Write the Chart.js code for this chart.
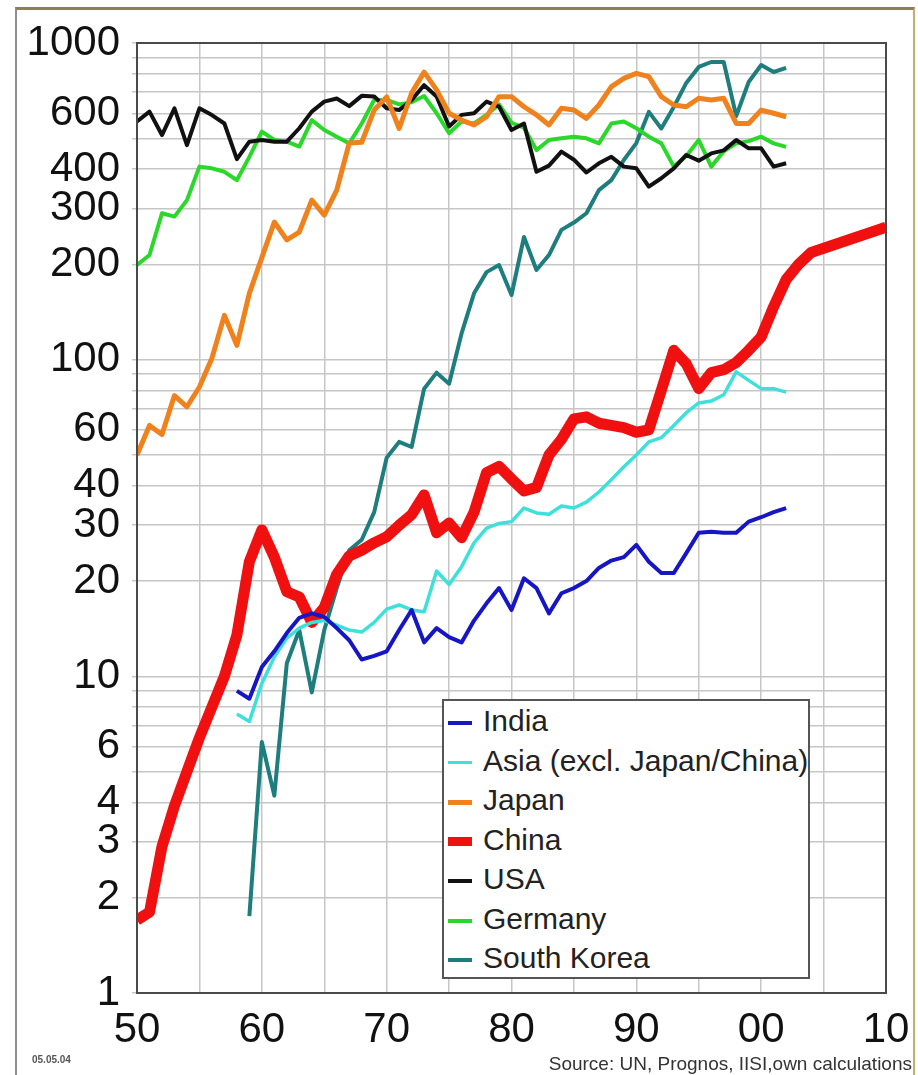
<!DOCTYPE html>
<html>
<head>
<meta charset="utf-8">
<script src="https://cdn.jsdelivr.net/npm/chart.js@4.4.1/dist/chart.umd.min.js"></script>
<style>
  html, body { margin: 0; padding: 0; background: #fff; }
  body { width: 918px; height: 1075px; position: relative; overflow: hidden; font-family: "Liberation Sans", Arial, sans-serif; }
  #frame { position: absolute; left: 15px; top: 7px; width: 896px; height: 1100px; border-top: 3px solid #8c7f58; border-left: 2px solid #8e8e8e; border-right: 2px solid #c9ad6a; }
  #wrap { position: absolute; left: 0; top: 0; width: 918px; height: 1060px; }
  #legend { position: absolute; left: 442px; top: 699px; width: 364px; height: 276px; border: 2px solid #555; background: #fff; }
  .item { height: 39.5px; line-height: 39.5px; font-size: 30px; color: #222; white-space: nowrap; }
  .swatch { display: inline-block; width: 24px; vertical-align: middle; margin: 0 11px 0 4px; }
  #date { position: absolute; left: 32px; top: 1054px; font-size: 10px; font-weight: bold; color: #555; }
  #source { position: absolute; right: 6px; top: 1053px; font-size: 19px; color: #333; }
</style>
</head>
<body>
<div id="frame"></div>
<div id="wrap"><canvas id="steelChart"></canvas></div>
<div id="legend"></div>
<div id="date">05.05.04</div>
<div id="source">Source: UN, Prognos, IISI,own calculations</div>
<script>
// values, one value per year from the start year
const indiaStart = 1958;
const indiaValues = [9.0, 8.5, 10.7, 12.0, 13.7, 15.3, 15.8, 15.4, 14.2, 13.0, 11.3, 11.6, 12.0, 14.0, 16.2, 12.8, 14.2, 13.3, 12.8, 15.0, 17.0, 19.0, 16.2, 20.4, 19.0, 15.8, 18.3, 19.0, 20.0, 22.0, 23.2, 23.8, 26.0, 23.0, 21.2, 21.2, 24.5, 28.4, 28.6, 28.4, 28.4, 30.8, 31.8, 33.0, 34.0];

const asiaStart = 1958;
const asiaValues = [7.6, 7.2, 9.5, 11.5, 13.2, 14.2, 14.8, 15.0, 14.5, 14.0, 13.8, 14.8, 16.3, 16.8, 16.2, 16.0, 21.5, 19.5, 22.2, 26.4, 29.4, 30.4, 30.8, 34.0, 32.8, 32.5, 34.5, 34.0, 35.5, 38.2, 41.8, 45.9, 50.0, 55.0, 56.7, 62.0, 68.0, 73.0, 74.0, 77.5, 91.5, 86.0, 81.0, 81.0, 79.0];

const japanStart = 1950;
const japanValues = [50, 62, 58, 77, 71, 82, 101, 138, 111, 162, 210, 272, 239, 253, 319, 286, 343, 483, 486, 614, 676, 537, 695, 809, 711, 600, 571, 551, 585, 677, 677, 629, 593, 551, 622, 614, 578, 637, 728, 773, 802, 783, 677, 637, 629, 669, 661, 669, 557, 557, 614, 600, 585];

const chinaStart = 1950;
const chinaValues = [1.7, 1.8, 2.9, 3.9, 5.0, 6.4, 8.0, 10.0, 13.5, 23, 29, 23.8, 18.5, 17.8, 14.8, 16.5, 21, 24, 25, 26.4, 27.6, 30, 32.4, 37.4, 28.4, 30.5, 27.4, 33, 44, 46, 42, 38.5, 39.5, 50, 56, 65, 66, 63, 62, 61, 59, 60, 80, 107, 97, 81, 91, 93, 98, 107, 118, 147, 179, 200, 218];
const chinaForecastYears = [2010];
const chinaForecastValues = [262];

const usaStart = 1950;
const usaValues = [565, 607, 512, 622, 476, 622, 592, 557, 430, 488, 494, 488, 488, 538, 607, 653, 668, 632, 681, 678, 622, 614, 661, 736, 678, 545, 593, 600, 653, 630, 531, 557, 392, 410, 454, 428, 390, 417, 437, 407, 402, 352, 374, 402, 443, 425, 448, 458, 494, 465, 465, 407, 417];

const germanyStart = 1950;
const germanyValues = [199, 214, 290, 283, 319, 407, 402, 392, 369, 437, 525, 494, 488, 471, 571, 531, 506, 482, 557, 661, 661, 640, 650, 680, 600, 519, 565, 557, 593, 640, 560, 540, 459, 494, 500, 506, 500, 482, 557, 565, 538, 506, 482, 407, 440, 494, 407, 455, 482, 490, 506, 482, 470];

const koreaStart = 1959;
const koreaValues = [1.75, 6.2, 4.2, 11, 14, 8.9, 14, 19, 25, 27, 33, 49, 55, 53, 81, 91, 84, 121, 162, 189, 199, 160, 244, 192, 214, 257, 271, 290, 343, 369, 427, 483, 606, 537, 628, 748, 840, 871, 871, 588, 753, 852, 810, 834];

const yTickValues = [1, 2, 3, 4, 5, 6, 7, 8, 9, 10, 20, 30, 40, 50, 60, 70, 80, 90, 100, 200, 300, 400, 500, 600, 700, 800, 900, 1000];
const yTickLabels = [1, 2, 3, 4, 6, 10, 20, 30, 40, 60, 100, 200, 300, 400, 600, 1000];

function toPoints(start, values) {
  return values.map((v, i) => ({ x: start + i, y: v }));
}

const chinaPoints = toPoints(chinaStart, chinaValues)
  .concat(chinaForecastYears.map((yr, i) => ({ x: yr, y: chinaForecastValues[i] })));

const datasets = [
  { label: "India", data: toPoints(indiaStart, indiaValues), borderColor: "#1616c4", borderWidth: 4 },
  { label: "Asia (excl. Japan/China)", data: toPoints(asiaStart, asiaValues), borderColor: "#3ee0dc", borderWidth: 3.5 },
  { label: "Japan", data: toPoints(japanStart, japanValues), borderColor: "#f0821e", borderWidth: 5 },
  { label: "China", data: chinaPoints, borderColor: "#f01010", borderWidth: 11 },
  { label: "USA", data: toPoints(usaStart, usaValues), borderColor: "#111111", borderWidth: 4 },
  { label: "Germany", data: toPoints(germanyStart, germanyValues), borderColor: "#2ad82a", borderWidth: 4 },
  { label: "South Korea", data: toPoints(koreaStart, koreaValues), borderColor: "#1e7d7d", borderWidth: 4 }
];
datasets.forEach(d => {
  d.fill = false;
  d.pointRadius = 0;
  d.tension = 0;
  d.borderJoinStyle = "round";
});

const plotBorder = {
  id: "plotBorder",
  afterDraw(chart) {
    const a = chart.chartArea;
    const ctx = chart.ctx;
    ctx.save();
    ctx.strokeStyle = "#4a4a4a";
    ctx.lineWidth = 2;
    ctx.strokeRect(a.left, a.top, a.right - a.left, a.bottom - a.top);
    ctx.restore();
  }
};

const tickFont = { family: "'Liberation Sans', Arial, sans-serif", size: 42 };

new Chart(document.getElementById("steelChart"), {
  type: "line",
  data: { datasets: datasets },
  plugins: [plotBorder],
  options: {
    animation: false,
    responsive: true,
    maintainAspectRatio: false,
    layout: { padding: { left: 0, right: 32, top: 43, bottom: 0 } },
    plugins: { legend: { display: false }, tooltip: { enabled: false } },
    scales: {
      x: {
        type: "linear",
        min: 1950,
        max: 2010,
        afterFit: s => { s.height = 67; },
        ticks: {
          stepSize: 5,
          autoSkip: false,
          maxRotation: 0,
          padding: 8,
          color: "#111",
          font: tickFont,
          callback: v => (v % 10 === 0 ? String(v % 100).padStart(2, "0") : "")
        },
        grid: { color: "#c6c6c6", lineWidth: 1.5, drawTicks: true, tickLength: 4, tickColor: "rgba(0,0,0,0)" },
        border: { color: "#4a4a4a", width: 2 }
      },
      y: {
        type: "logarithmic",
        min: 1,
        max: 1000,
        afterFit: s => { s.width = 137; },
        afterBuildTicks: s => { s.ticks = yTickValues.map(v => ({ value: v })); },
        ticks: {
          autoSkip: false,
          padding: 12,
          color: "#111",
          font: tickFont,
          callback: v => (yTickLabels.includes(v) ? String(v) : "")
        },
        grid: { color: "#c6c6c6", lineWidth: 1.5, tickLength: 5 },
        border: { color: "#4a4a4a", width: 2 }
      }
    }
  }
});

// legend box drawn from the datasets
const legend = document.getElementById("legend");
datasets.forEach(d => {
  const row = document.createElement("div");
  row.className = "item";
  const sw = document.createElement("span");
  sw.className = "swatch";
  sw.style.height = Math.min(d.borderWidth, 9) + "px";
  sw.style.background = d.borderColor;
  row.appendChild(sw);
  row.appendChild(document.createTextNode(d.label));
  legend.appendChild(row);
});
</script>
</body>
</html>
